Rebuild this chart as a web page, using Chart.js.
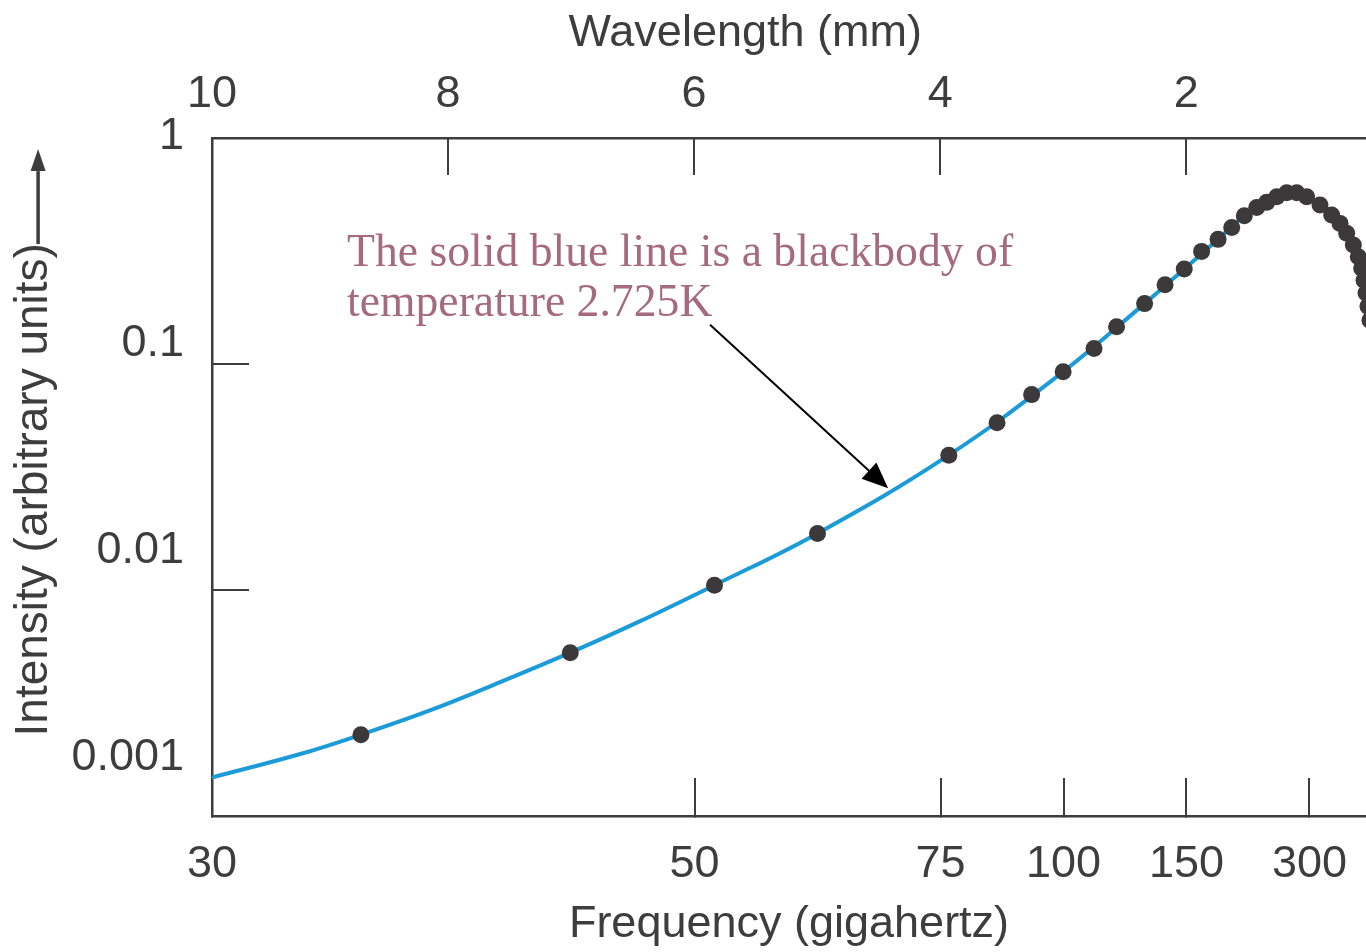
<!DOCTYPE html>
<html>
<head>
<meta charset="utf-8">
<title>Cosmic microwave background spectrum</title>
<script src="https://cdn.jsdelivr.net/npm/chart.js@4.4.1/dist/chart.umd.min.js"></script>
<style>
  html, body { margin: 0; padding: 0; background: #fff; }
  #wrap { position: relative; width: 1366px; height: 952px; }
</style>
</head>
<body>
<div id="wrap"><canvas id="cmbChart"></canvas></div>
<script>
// measured points (wavelength in mm, intensity in arbitrary units)
const dotWavelength = [8.707, 7.006, 5.834, 4.997, 3.930, 3.538, 3.257, 3.001, 2.750, 2.567,
  2.339, 2.173, 2.017, 1.876, 1.742, 1.631, 1.529, 1.428, 1.347, 1.265,
  1.184, 1.103, 1.022, 0.914, 0.819, 0.751, 0.697, 0.643, 0.603, 0.575,
  0.556, 0.540, 0.524, 0.508];
const dotIntensity = [0.00229, 0.00528, 0.0105, 0.0178, 0.0395, 0.0549, 0.0732, 0.0924, 0.117, 0.146,
  0.185, 0.224, 0.263, 0.315, 0.356, 0.402, 0.453, 0.493, 0.519, 0.550,
  0.572, 0.572, 0.550, 0.505, 0.456, 0.419, 0.379, 0.336, 0.298, 0.265,
  0.235, 0.206, 0.180, 0.156];

// blackbody curve
const curveWavelength = [9.917, 9.200, 8.707, 8.119, 7.575, 7.006, 6.438, 5.834, 4.997,
  3.930, 3.001, 2.339, 2.017, 1.742, 1.529, 1.347, 1.149, 1.022, 0.914,
  0.819, 0.751, 0.697, 0.643, 0.603, 0.575, 0.556, 0.540, 0.524, 0.508];
const curveIntensity = [0.00148, 0.00188, 0.00229, 0.00297, 0.00391, 0.00528, 0.00728, 0.0105, 0.0178,
  0.0395, 0.0924, 0.185, 0.263, 0.356, 0.453, 0.519, 0.577, 0.550, 0.505,
  0.456, 0.419, 0.379, 0.336, 0.298, 0.265, 0.235, 0.206, 0.180, 0.156];

// tick labels
const wavelengthTicks = [10, 8, 6, 4, 2];
const frequencyTicks = [30, 50, 75, 100, 150, 300];
const intensityLabels = [1, 0.1, 0.01, 0.001];
const intensityMarks = [0.1, 0.01];

const C_MM_GHZ = 299.8;          // wavelength(mm) = c / f(GHz)
const X_MIN = 0.54, X_MAX = 9.917;

const note = {
  lines: ['The solid blue line is a blackbody of', 'temperature 2.725K'],
  at: { x: 8.82, y: 0.271 },
  from: { x: 5.87, y: 0.149 },
  to: { x: 4.423, y: 0.0282 }
};

const ink = '#3d3d3d';
const sans = "'Liberation Sans', Arial, sans-serif";
const axisFont = { family: sans, size: 45 };
const titleFont = { family: sans, size: 45 };
const yTitleFont = { family: sans, size: 46 };
const yTitlePad = 6.5;
const nb = n => '\u00a0'.repeat(n);
const yTitleText = 'Intensity (arbitrary units)';

function fixSize(w, h) {
  return function(scale) {
    if (w !== null) scale.width = w;
    if (h !== null) scale.height = h;
    scale.paddingLeft = scale.paddingRight = scale.paddingTop = scale.paddingBottom = 0;
  };
}

function drawArrow(ctx, x0, y0, x1, y1, head, half) {
  const ang = Math.atan2(y1 - y0, x1 - x0);
  const bx = x1 - head * Math.cos(ang), by = y1 - head * Math.sin(ang);
  ctx.beginPath();
  ctx.moveTo(x0, y0);
  ctx.lineTo(bx, by);
  ctx.stroke();
  ctx.beginPath();
  ctx.moveTo(x1, y1);
  ctx.lineTo(bx - half * Math.sin(ang), by + half * Math.cos(ang));
  ctx.lineTo(bx + half * Math.sin(ang), by - half * Math.cos(ang));
  ctx.closePath();
  ctx.fill();
}

const notePlugin = {
  id: 'note',
  afterDraw(chart) {
    const { ctx, scales: { x, y, yl } } = chart;
    ctx.save();
    // annotation text
    ctx.font = '45.7px "Liberation Serif", serif';
    ctx.fillStyle = '#a66a7e';
    ctx.textBaseline = 'alphabetic';
    const tx = x.getPixelForValue(note.at.x);
    const ty = y.getPixelForValue(note.at.y);
    note.lines.forEach((line, i) => ctx.fillText(line, tx, ty + i * 50));

    // pointer to the curve
    ctx.strokeStyle = '#000';
    ctx.fillStyle = '#000';
    ctx.lineWidth = 2;
    drawArrow(ctx,
      x.getPixelForValue(note.from.x), y.getPixelForValue(note.from.y),
      x.getPixelForValue(note.to.x), y.getPixelForValue(note.to.y), 26, 11);

    // "increasing" arrow after the y title
    ctx.font = yTitleFont.size + 'px ' + yTitleFont.family;
    const full = ctx.measureText(yTitleText + nb(2)).width;
    const visible = ctx.measureText(yTitleText).width;
    const cy = (yl.top + yl.bottom) / 2;
    const textTop = cy + full / 2 - visible;
    const ax = yl.left + yTitlePad + yTitleFont.size * 0.6 + 4;
    ctx.strokeStyle = ink;
    ctx.fillStyle = ink;
    ctx.lineWidth = 3.5;
    drawArrow(ctx, ax, textTop + 1, ax, textTop - 94, 22, 7.5);
    ctx.restore();
  }
};

const ctx = document.getElementById('cmbChart').getContext('2d');
new Chart(ctx, {
  type: 'line',
  data: {
    datasets: [
      {
        label: 'Measurements',
        data: dotWavelength.map((w, i) => ({ x: w, y: dotIntensity[i] })),
        showLine: false,
        pointRadius: 8.5,
        pointBorderWidth: 0,
        pointBackgroundColor: '#3b393a',
        pointBorderColor: '#3b393a'
      },
      {
        label: 'Blackbody 2.725 K',
        data: curveWavelength.map((w, i) => ({ x: w, y: curveIntensity[i] })),
        borderColor: '#1b9bd7',
        borderWidth: 4,
        pointRadius: 0,
        fill: false,
        tension: 0.4
      }
    ]
  },
  options: {
    responsive: true,
    maintainAspectRatio: false,
    devicePixelRatio: 1,
    animation: false,
    layout: { padding: 0, autoPadding: false },
    plugins: {
      legend: { display: false },
      tooltip: { enabled: false }
    },
    scales: {
      x: {
        type: 'linear',
        position: 'bottom',
        reverse: true,
        min: X_MIN,
        max: X_MAX,
        bounds: 'data',
        afterBuildTicks: axis => {
          axis.ticks = frequencyTicks.map(f => ({ value: Math.min(C_MM_GHZ / f, X_MAX) }));
        },
        afterFit: fixSize(null, 136),
        ticks: {
          autoSkip: false, maxRotation: 0, minRotation: 0,
          padding: 59.4,
          color: ink,
          font: axisFont,
          callback: (v, i) => String(frequencyTicks[i])
        },
        grid: { drawOnChartArea: false, drawTicks: true, tickLength: -38, color: ink, lineWidth: 2 },
        border: { display: true, color: ink, width: 2.5 },
        title: {
          display: true,
          text: 'Frequency (gigahertz)',
          color: ink,
          font: titleFont,
          padding: { top: 0, bottom: 0 }
        }
      },
      x2: {
        type: 'linear',
        axis: 'x',
        position: 'top',
        reverse: true,
        min: X_MIN,
        max: X_MAX,
        bounds: 'data',
        afterBuildTicks: axis => {
          axis.ticks = wavelengthTicks.map(w => ({ value: Math.min(w, X_MAX) }));
        },
        afterFit: fixSize(null, 138),
        ticks: {
          autoSkip: false, maxRotation: 0, minRotation: 0,
          padding: 53.6,
          color: ink,
          font: axisFont,
          callback: (v, i) => String(wavelengthTicks[i])
        },
        grid: { drawOnChartArea: false, drawTicks: true, tickLength: -37, color: ink, lineWidth: 2 },
        border: { display: true, color: ink, width: 2.5 },
        title: {
          display: true,
          text: 'Wavelength (mm)' + nb(7),
          color: ink,
          font: titleFont,
          padding: { top: 7, bottom: 0 }
        }
      },
      y: {
        type: 'logarithmic',
        position: 'left',
        weight: 0,
        min: 0.001,
        max: 1,
        bounds: 'data',
        afterBuildTicks: axis => {
          axis.ticks = intensityMarks.map(v => ({ value: v }));
        },
        afterFit: fixSize(0, null),
        ticks: { display: false },
        grid: { drawOnChartArea: false, drawTicks: true, tickLength: -37, color: ink, lineWidth: 2 },
        border: { display: true, color: ink, width: 2.5 }
      },
      yl: {
        type: 'logarithmic',
        axis: 'y',
        position: 'left',
        weight: 10,
        min: 0.0005217,
        max: 0.98893,
        bounds: 'data',
        afterBuildTicks: axis => {
          axis.ticks = intensityLabels.map(v => ({ value: v }));
        },
        afterFit: fixSize(212, null),
        ticks: {
          autoSkip: false,
          padding: 28,
          color: ink,
          font: axisFont,
          callback: (v, i) => String(intensityLabels[i])
        },
        grid: { display: false, drawTicks: false },
        border: { display: false },
        title: {
          display: true,
          text: yTitleText + nb(2),
          color: ink,
          font: yTitleFont,
          padding: { top: yTitlePad, bottom: 0 }
        }
      }
    }
  },
  plugins: [notePlugin]
});
</script>
</body>
</html>
